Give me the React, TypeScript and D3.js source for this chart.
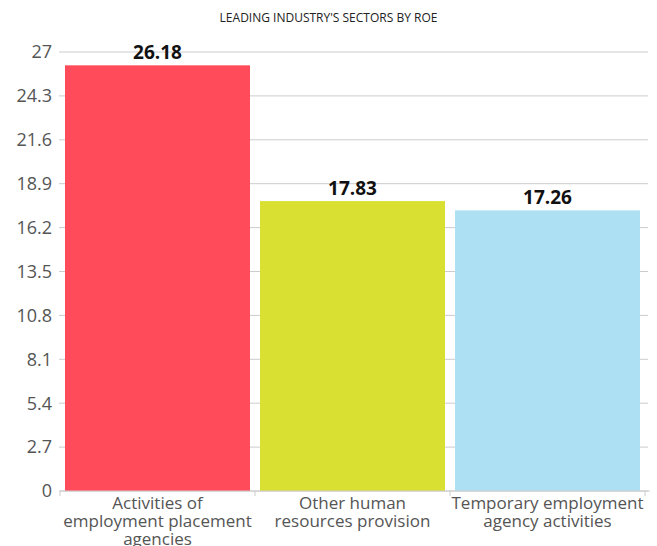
import React, { useRef, useEffect } from 'react';
import * as d3 from 'd3';

const title = "LEADING INDUSTRY'S SECTORS BY ROE";
const categories = [
  'Activities of\nemployment placement\nagencies',
  'Other human\nresources provision',
  'Temporary employment\nagency activities',
];
const values = [26.18, 17.83, 17.26];
const colors = ['#FF4B5A', '#D9E032', '#ADE0F2'];
const yTicks = [0, 2.7, 5.4, 8.1, 10.8, 13.5, 16.2, 18.9, 21.6, 24.3, 27];

const W = 657;
const H = 546;

const App = () => {
  const ref = useRef<SVGGElement>(null);

  useEffect(() => {
    const g = d3.select(ref.current);
    g.selectAll('*').remove();
    const left = 60;
    const right = 648;
    const top = 52;
    const bottom = 491;
    const font = "'Open Sans', sans-serif";

    const x = d3
      .scaleBand()
      .domain(categories)
      .range([left, 645])
      .paddingInner(0.0513)
      .paddingOuter(0.0256);
    const y = d3.scaleLinear().domain([0, 27]).range([bottom, top]);

    g.append('text')
      .attr('x', W / 2)
      .attr('y', 22)
      .attr('text-anchor', 'middle')
      .attr('font-family', font)
      .attr('font-size', 12)
      .attr('fill', '#222')
      .text(title);

    const yAxis = g.append('g');
    yTicks.forEach(t => {
      yAxis
        .append('line')
        .attr('x1', left - 1)
        .attr('x2', right)
        .attr('y1', y(t))
        .attr('y2', y(t))
        .attr('stroke', '#cccccc')
        .attr('stroke-width', 1);
      yAxis
        .append('text')
        .attr('x', 52)
        .attr('y', y(t))
        .attr('dy', '0.35em')
        .attr('text-anchor', 'end')
        .attr('font-family', font)
        .attr('font-size', 18)
        .attr('fill', '#555')
        .text(String(t));
    });

    const rows = categories.map((c, i) => ({ c, v: values[i], color: colors[i] }));

    g.selectAll('rect.bar')
      .data(rows)
      .enter()
      .append('rect')
      .attr('class', 'bar')
      .attr('x', d => x(d.c)!)
      .attr('y', d => y(d.v))
      .attr('width', x.bandwidth())
      .attr('height', d => bottom - y(d.v))
      .attr('fill', d => d.color);

    g.selectAll('text.val')
      .data(rows)
      .enter()
      .append('text')
      .attr('class', 'val')
      .attr('x', d => x(d.c)! + x.bandwidth() / 2)
      .attr('y', d => y(d.v) - 6)
      .attr('text-anchor', 'middle')
      .attr('font-family', font)
      .attr('font-weight', 'bold')
      .attr('font-size', 19)
      .attr('fill', '#111')
      .text(d => d.v.toFixed(2));

    // bottom axis
    g.append('line')
      .attr('x1', left)
      .attr('x2', 650)
      .attr('y1', bottom)
      .attr('y2', bottom)
      .attr('stroke', '#cccccc');
    const step = x.step();
    const edges = [left, ...categories.map(c => x(c)! + x.bandwidth() + (step - x.bandwidth()) / 2)];
    edges.forEach(e => {
      g.append('line')
        .attr('x1', e)
        .attr('x2', e)
        .attr('y1', bottom)
        .attr('y2', bottom + 5)
        .attr('stroke', '#cccccc');
    });

    categories.forEach(c => {
      const t = g
        .append('text')
        .attr('x', x(c)! + x.bandwidth() / 2)
        .attr('y', bottom + 18)
        .attr('text-anchor', 'middle')
        .attr('font-family', font)
        .attr('font-size', 17)
        .attr('fill', '#555');
      c.split('\n').forEach((line, i) => {
        t.append('tspan')
          .attr('x', x(c)! + x.bandwidth() / 2)
          .attr('dy', i === 0 ? 0 : 18)
          .text(line);
      });
    });
  }, []);

  return (
    <svg width={W} height={H} style={{ position: 'absolute', left: 0, top: 0 }}>
      <rect width={W} height={H} fill="#fff" />
      <g ref={ref} />
    </svg>
  );
};

export default App;
